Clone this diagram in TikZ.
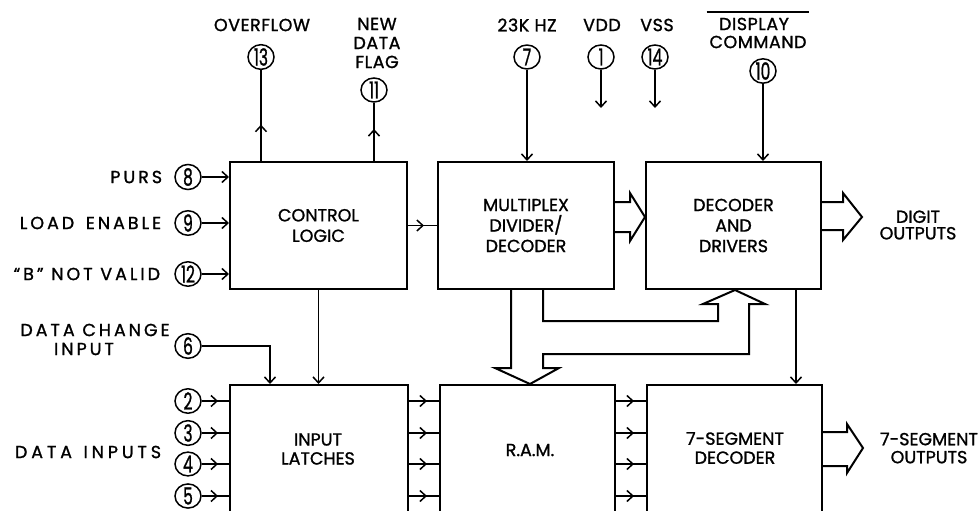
\documentclass[tikz,border=0pt]{standalone}
\usepackage{fontspec}
\usepackage{graphicx}
\setmainfont{Poppins}[FakeBold=1.2, LetterSpace=3]
\newfontfamily\boxfont{Poppins}[FakeBold=1.2]
\newfontfamily\spaced{Poppins}[FakeBold=1.2, LetterSpace=17]
\newfontfamily\spacedw{Poppins}[FakeBold=1.2, LetterSpace=22]
\usetikzlibrary{arrows.meta,decorations.markings,shapes.geometric,calc}
\newcommand\pinnum[1]{\scalebox{0.66}[1]{#1}}
\begin{document}
\begin{tikzpicture}[x=1pt,y=-1pt,
  line width=1.8pt,
  >={Straight Barb[length=6pt,width=11pt,line width=1.5pt]},
  lbl/.style={font=\fontsize{17.5}{19}\selectfont, inner sep=0pt, align=center},
  sp/.style={font=\spaced\fontsize{17.5}{19}\selectfont, inner sep=0pt, anchor=east},
  box/.style={draw, line width=2pt, minimum height=127pt, inner sep=0pt, align=center, font=\boxfont\fontsize{17.5}{20.5}\selectfont},
  lowbox/.style={draw, line width=2pt, minimum height=140pt, inner sep=0pt},
  btxt/.style={inner sep=0pt, align=center, font=\boxfont\fontsize{17.5}{19}\selectfont},
  pinc/.style={draw, ellipse, minimum width=26pt, minimum height=22pt, inner sep=0pt, line width=1.5pt, font=\boxfont\fontsize{23.5}{23.5}\selectfont},
  midarr/.style={postaction={decorate}, decoration={markings, mark=at position #1 with {\arrow{>}}}},
  bus/.style={line width=2pt, line join=miter}
]
\useasboundingbox (0,0) rectangle (980,511);
\clip (0,0) rectangle (980,511);

% boxes
\node[box, minimum width=177pt] (ctl) at (318.5,225.5) {CONTROL\\LOGIC};
\node[box, minimum width=176pt] (mux) at (526,225.5) {MULTIPLEX\\DIVIDER/\\DECODER};
\node[box, minimum width=175pt] (dec) at (733.5,225.5) {DECODER\\AND\\DRIVERS};
\node[lowbox, minimum width=178pt] (lat) at (319,455) {};
\node[lowbox, minimum width=175pt] (ram) at (527.5,455) {};
\node[lowbox, minimum width=175pt] (seg) at (734.5,455) {};
\node[btxt] (latT) at (318,449) {INPUT\\LATCHES};
\node[btxt] (ramT) at (530,450) {R.A.M.};
\node[btxt] (segT) at (735,448) {7-SEGMENT\\DECODER};

% top pins
\node[lbl] (tOver) at (262,25) {OVERFLOW};
\node[pinc] (p13) at (261,57) {\pinnum{13}};
\node[lbl] (tNew) at (377,43) {NEW\\DATA\\FLAG};
\node[pinc] (p11) at (374,90) {\pinnum{11}};
\node[lbl] (t23) at (527,25) {23K HZ};
\node[pinc] (p7) at (527,57) {\pinnum{7}};
\node[lbl] (tVdd) at (602,25) {VDD};
\node[pinc] (p1) at (601,57) {\pinnum{1}};
\node[lbl] (tVss) at (657,25) {VSS};
\node[pinc] (p14) at (655,57) {\pinnum{14}};
\node[lbl] (tDisp) at (754,24) {DISPLAY};
\node[lbl] (tCmd) at (758,42) {COMMAND};
\node[pinc] (p10) at (763,71) {\pinnum{10}};
\draw[line width=1.5pt] ($(tDisp.north -| tCmd.west)+(-2,-5)$) -- ($(tDisp.north -| tCmd.east)+(2,-5)$);

% left pins
\node[sp] (tPurs) at (163,177) {PURS};
\node[pinc] (p8) at (188,177) {\pinnum{8}};
\node[sp] (tLoad) at (162,223) {LOAD\hspace{4pt} ENABLE};
\node[pinc] (p9) at (188,223) {\pinnum{9}};
\node[sp] (tB) at (161,274) {“B” NOT VALID};
\node[pinc] (p12) at (188,274) {\pinnum{12}};
\node[lbl, font=\spaced\fontsize{17.5}{19}\selectfont] (tDc1) at (95,330) {DATA CHANGE};
\node[lbl, font=\spaced\fontsize{17.5}{19}\selectfont] (tDc2) at (84,349) {INPUT};
\node[pinc] (p6) at (188,346) {\pinnum{6}};
\node[sp, font=\spacedw\fontsize{17.5}{19}\selectfont] (tDi) at (162,452) {DATA\hspace{3pt} INPUTS};
\node[pinc] (p2) at (188,401) {\pinnum{2}};
\node[pinc] (p3) at (188,433) {\pinnum{3}};
\node[pinc] (p4) at (188,464) {\pinnum{4}};
\node[pinc] (p5) at (188,496) {\pinnum{5}};

% right labels
\node[btxt, font=\boxfont\fontsize{17.5}{16.5}\selectfont] (tDig) at (918,225) {DIGIT\\OUTPUTS};
\node[btxt, font=\boxfont\fontsize{17.5}{18}\selectfont] (tSeg) at (929,448) {7-SEGMENT\\OUTPUTS};

% helper coordinates
\coordinate (vddE) at (601,108);
\coordinate (vssE) at (655,108);
\coordinate (xDc) at (270,0);
\coordinate (xDS) at (796,0);

% connectors
\draw[midarr=0.4] (ctl.north -| p13) -- (p13.south);
\draw[midarr=0.55] (ctl.north -| p11) -- (p11.south);
\draw[->] (p7.south) -- (mux.north -| p7);
\draw[->] (p1.south) -- (vddE);
\draw[->] (p14.south) -- (vssE);
\draw[->] (p10.south) -- (dec.north -| p10);
\draw[->] (p8.east) -- (ctl.west |- p8);
\draw[->] (p9.east) -- (ctl.west |- p9);
\draw[->] (p12.east) -- (ctl.west |- p12);
\draw[->] (p6.east) -| (lat.north -| xDc);
\draw[->] (ctl.south) -- (lat.north -| ctl.south);
\foreach \p in {p2,p3,p4,p5}{
  \draw[midarr=0.6] (\p.east) -- (lat.west |- \p);
  \draw[midarr=0.6] (lat.east |- \p) -- (ram.west |- \p);
  \draw[midarr=0.6] (ram.east |- \p) -- (seg.west |- \p);
}
\draw[midarr=0.55] (ctl.east) -- (mux.west);
\draw[->] (dec.south -| xDS) -- (seg.north -| xDS);

% hollow bus arrows
\draw[bus] (mux.east |- 0,202) -- (630,202) -- (630,193) -- (dec.west |- 0,217) -- (630,241) -- (630,232) -- (mux.east |- 0,232);
\draw[bus] (dec.east |- 0,202) -- (843,202) -- (843,193) -- (862,217) -- (843,240) -- (843,230) -- (dec.east |- 0,230);
\draw[bus] (seg.east |- 0,432) -- (847,432) -- (847,424) -- (863,448) -- (847,473) -- (847,466) -- (seg.east |- 0,466);
\draw[bus] (mux.south -| 511,0) -- (511,368) -- (495,368) -- (ram.north -| 530,0) -- (559,368) -- (543,368) -- (543,354) -- (749,354) -- (749,304) -- (765,304) -- (dec.south -| 735,0) -- (703,304) -- (718,304) -- (718,321) -- (543,321) -- (mux.south -| 543,0);
\end{tikzpicture}
\end{document}
